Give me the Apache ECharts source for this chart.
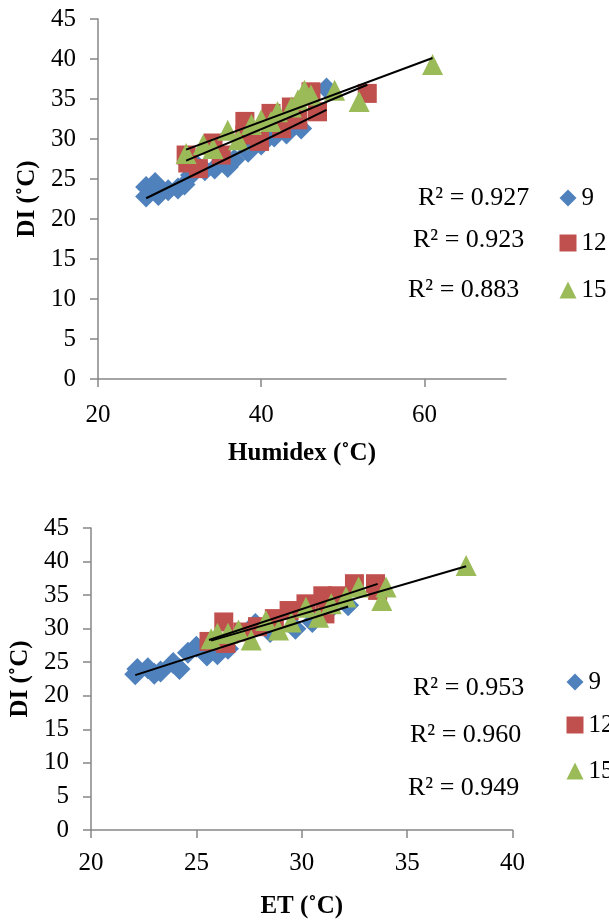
<!DOCTYPE html>
<html>
<head>
<meta charset="utf-8">
<script src="https://cdn.jsdelivr.net/npm/echarts@6/dist/echarts.min.js"></script>
<style>html,body{margin:0;padding:0;background:#fff;}#c{width:609px;height:920px;}</style>
</head>
<body>
<div id="c"></div>
<script>
// ---- Data: top chart (Humidex vs DI) ----
const topX9  = [25.9, 27.0, 25.9, 27.4, 28.6, 29.8, 30.6, 31.4, 32.2, 33.1, 34.3, 35.9, 36.7, 38.4, 40.0, 41.6, 43.1, 44.9, 48.0];
const topY9  = [24.0, 24.5, 22.8, 23.0, 23.6, 23.8, 24.3, 25.5, 26.6, 26.1, 26.3, 26.5, 27.4, 28.4, 29.3, 30.3, 30.7, 31.3, 36.3];
const topX12 = [30.8, 31.0, 32.3, 34.1, 35.1, 38.0, 38.0, 39.8, 41.2, 42.5, 43.7, 44.5, 46.1, 46.9, 53.0];
const topY12 = [28.0, 27.0, 26.3, 29.5, 28.0, 32.2, 30.5, 29.7, 33.2, 31.3, 34.0, 32.4, 35.9, 33.4, 35.7];
const topX15 = [30.8, 32.9, 34.1, 35.9, 37.2, 38.8, 40.0, 41.2, 42.0, 43.7, 44.5, 45.3, 46.1, 49.0, 52.0, 61.0];
const topY15 = [28.2, 29.3, 28.8, 31.1, 29.9, 31.8, 32.4, 32.2, 33.4, 34.0, 34.9, 36.1, 35.5, 36.1, 34.7, 39.3];
// ---- Data: bottom chart (ET vs DI) ----
const botX9  = [22.1, 22.2, 22.7, 23.0, 23.3, 23.9, 24.2, 24.6, 25.0, 25.5, 26.0, 26.5, 27.8, 28.5, 29.7, 30.5, 31.3, 32.2];
const botY9  = [23.2, 24.0, 24.1, 23.3, 23.6, 24.9, 24.0, 26.4, 27.3, 26.0, 26.2, 27.0, 30.7, 29.5, 30.0, 31.0, 32.8, 33.5];
const botX12 = [25.6, 26.3, 26.4, 27.2, 27.9, 28.7, 29.4, 30.2, 31.0, 31.7, 31.1, 32.5, 33.5, 33.6];
const botY12 = [28.1, 31.0, 27.8, 29.5, 30.3, 31.5, 32.7, 33.7, 34.9, 34.9, 32.2, 36.7, 36.7, 35.7];
const botX15 = [25.7, 26.0, 26.5, 27.0, 27.6, 28.3, 28.9, 29.5, 30.2, 30.8, 31.4, 32.1, 32.7, 34.0, 33.8, 37.8];
const botY15 = [28.5, 29.3, 29.3, 29.8, 28.3, 31.2, 29.8, 31.0, 33.2, 31.7, 33.7, 34.7, 36.2, 36.2, 34.2, 39.4];

const seriesNames = ['9', '12', '15'];
const topR2 = ['R² = 0.927', 'R² = 0.923', 'R² = 0.883'];
const botR2 = ['R² = 0.953', 'R² = 0.960', 'R² = 0.949'];
const topXTicks = [20, 40, 60];

const colors = ['#4F81BD', '#C0504D', '#9BBB59'];
const symbols = ['diamond', 'rect', 'triangle'];
const symbolSizes = [22, 19, 21];
const FONT = '"Liberation Serif", "Times New Roman", serif';

function pairs(xs, ys) { return xs.map((x, i) => [x, ys[i]]); }
function trend(xs, ys) {
  const n = xs.length;
  const mx = xs.reduce((a, b) => a + b, 0) / n;
  const my = ys.reduce((a, b) => a + b, 0) / n;
  let sxy = 0, sxx = 0;
  for (let i = 0; i < n; i++) { sxy += (xs[i] - mx) * (ys[i] - my); sxx += (xs[i] - mx) ** 2; }
  const b = sxy / sxx, a = my - b * mx;
  const x0 = Math.min(...xs), x1 = Math.max(...xs);
  return [[x0, a + b * x0], [x1, a + b * x1]];
}

const topSets = [[topX9, topY9], [topX12, topY12], [topX15, topY15]];
const botSets = [[botX9, botY9], [botX12, botY12], [botX15, botY15]];

const series = [];
[topSets, botSets].forEach((sets, gi) => {
  sets.forEach((s, k) => {
    series.push({
      type: 'scatter', name: seriesNames[k], xAxisIndex: gi, yAxisIndex: gi,
      symbol: symbols[k], symbolSize: symbolSizes[k],
      itemStyle: { color: colors[k], opacity: 1 },
      data: pairs(s[0], s[1]), z: 2 + k, animation: false
    });
  });
  sets.forEach((s, k) => {
    series.push({
      type: 'line', name: 'trend' + gi + k, xAxisIndex: gi, yAxisIndex: gi,
      data: trend(s[0], s[1]), symbol: 'none', silent: true,
      lineStyle: { color: '#000', width: 2 }, z: 10, animation: false
    });
  });
});

const axisLine = { lineStyle: { color: '#868686', width: 1.5 } };
const axisTick = { length: 8, lineStyle: { color: '#868686', width: 1.5 } };
const labelStyle = { color: '#000', fontFamily: FONT, fontSize: 25 };
const nameStyle = { color: '#000', fontFamily: FONT, fontSize: 25, fontWeight: 'bold' };

function yAxis(gridIndex, gap) {
  return {
    type: 'value', gridIndex, min: 0, max: 45, interval: 5,
    name: 'DI (˚C)', nameLocation: 'middle', nameGap: gap, nameTextStyle: nameStyle,
    axisLine: Object.assign({ show: true }, axisLine), axisTick: Object.assign({ show: true }, axisTick),
    axisLabel: Object.assign({ margin: 22 }, labelStyle), splitLine: { show: false }
  };
}

const legends = [];
const legendTop = [[568, 198], [568, 243], [568, 290]];
const legendBot = [[575, 682], [575, 725], [575, 771]];
[legendTop, legendBot].forEach(pos => {
  pos.forEach((p, k) => {
    legends.push({
      data: [{ name: seriesNames[k], icon: symbols[k] }],
      left: p[0] - 8.5, top: p[1] - 13, padding: 0, itemWidth: 17, itemHeight: 17, itemGap: 0,
      textStyle: { color: '#000', fontFamily: FONT, fontSize: 25, lineHeight: 26, padding: [0, 0, 0, 0] },
      selectedMode: false
    });
  });
});

const graphics = [];
const topR2Pos = [[418, 198], [413, 240], [408, 290]];
const botR2Pos = [[413, 688], [410, 735], [408, 788]];
[[topR2, topR2Pos], [botR2, botR2Pos]].forEach(([texts, pos]) => {
  texts.forEach((t, k) => {
    graphics.push({
      type: 'text', x: pos[k][0], y: pos[k][1],
      style: { text: t, font: '26px ' + FONT, fill: '#000', textVerticalAlign: 'middle', verticalAlign: 'middle' }
    });
  });
});

const chart = echarts.init(document.getElementById('c'), null, { renderer: 'canvas' });
chart.setOption({
  animation: false,
  backgroundColor: '#fff',
  grid: [
    { left: 98, top: 19, width: 408, height: 360 },
    { left: 91, top: 528, width: 421.5, height: 305.5 }
  ],
  xAxis: [
    {
      type: 'value', gridIndex: 0, min: 20, max: 70, interval: 20,
      name: 'Humidex (˚C)', nameLocation: 'middle', nameGap: 62, nameTextStyle: nameStyle,
      axisLine: Object.assign({ onZero: false }, axisLine),
      axisTick: Object.assign({ customValues: topXTicks }, axisTick),
      axisLabel: Object.assign({ margin: 24, customValues: topXTicks }, labelStyle),
      splitLine: { show: false }
    },
    {
      type: 'value', gridIndex: 1, min: 20, max: 40, interval: 5,
      name: 'ET (˚C)', nameLocation: 'middle', nameGap: 64, nameTextStyle: nameStyle,
      axisLine: Object.assign({ onZero: false }, axisLine), axisTick: axisTick,
      axisLabel: Object.assign({ margin: 21 }, labelStyle),
      splitLine: { show: false }
    }
  ],
  yAxis: [yAxis(0, 56), yAxis(1, 58)],
  legend: legends,
  graphic: graphics,
  series: series
});
</script>
</body>
</html>
